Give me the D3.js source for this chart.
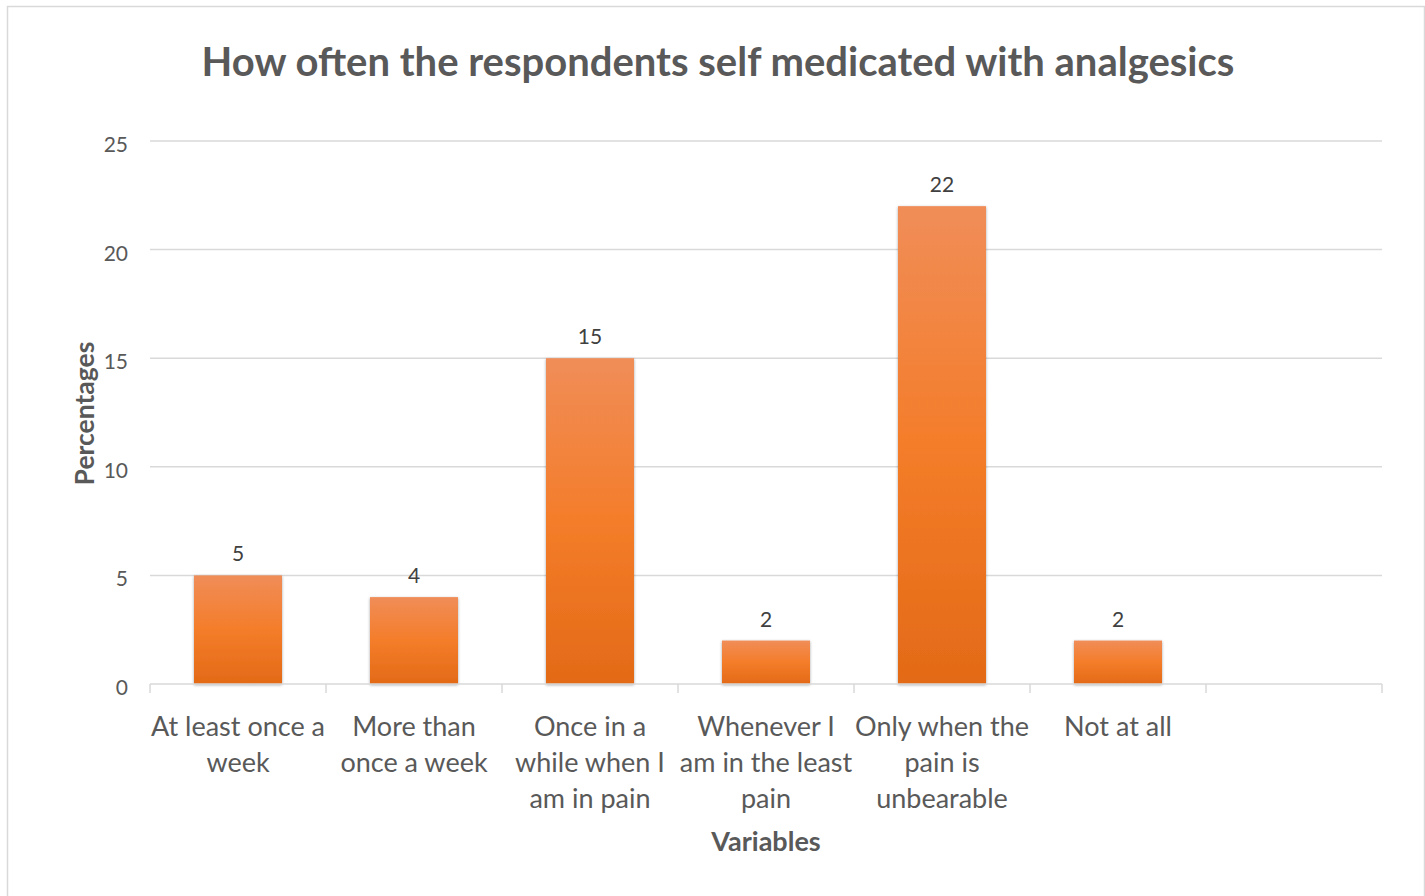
<!DOCTYPE html>
<html>
<head>
<meta charset="utf-8">
<script src="https://cdn.jsdelivr.net/npm/d3@7"></script>
<style>
  html, body { margin: 0; padding: 0; background: #fff; }
  svg { display: block; font-family: Lato, "Open Sans", sans-serif; }
</style>
</head>
<body>
<svg id="chart" width="1425" height="896"></svg>
<script>
// Chart content
const titleText = "How often the respondents self medicated with analgesics";
const categories = [
  ["At least once a", "week"],
  ["More than", "once a week"],
  ["Once in a", "while when I", "am in pain"],
  ["Whenever I", "am in the least", "pain"],
  ["Only when the", "pain is", "unbearable"],
  ["Not at all"]
];
const values = [5, 4, 15, 2, 22, 2];
const yTicks = [0, 5, 10, 15, 20, 25];
const yTitle = "Percentages";
const xTitle = "Variables";

const svg = d3.select("#chart");
const W = 1425, H = 896;
const margin = { left: 150, right: 43, top: 141, bottom: 212 };
const plotW = W - margin.left - margin.right;
const plotH = H - margin.top - margin.bottom;

// Frame
svg.append("rect")
  .attr("x", 7.5).attr("y", 6.5)
  .attr("width", W - 8).attr("height", H)
  .attr("fill", "#fff").attr("stroke", "#d9d9d9").attr("stroke-width", 1.5);

// Bar gradient
const defs = svg.append("defs");
const grad = defs.append("linearGradient")
  .attr("id", "barFill").attr("x1", 0).attr("y1", 0).attr("x2", 0).attr("y2", 1);
grad.append("stop").attr("offset", "0%").attr("stop-color", "#f08d58");
grad.append("stop").attr("offset", "50%").attr("stop-color", "#f47d2a");
grad.append("stop").attr("offset", "100%").attr("stop-color", "#e36a17");
const shadow = defs.append("filter").attr("id", "barShadow")
  .attr("x", "-10%").attr("y", "-5%").attr("width", "120%").attr("height", "112%");
shadow.append("feDropShadow")
  .attr("dx", 0).attr("dy", 1).attr("stdDeviation", 1.6)
  .attr("flood-color", "#000").attr("flood-opacity", 0.35);

const g = svg.append("g").attr("transform", `translate(${margin.left},${margin.top})`);

// Seven slots on the axis; the last one is left empty
const slotKeys = d3.range(values.length + 1).map(String);
const x = d3.scaleBand()
  .domain(slotKeys)
  .range([0, plotW])
  .paddingInner(0.5)
  .paddingOuter(0.25);
const step = x.step();

const y = d3.scaleLinear().domain([0, 25]).range([plotH, 0]);

// Gridlines
g.append("g").selectAll("line")
  .data(yTicks.filter(d => d > 0))
  .join("line")
  .attr("x1", 0).attr("x2", plotW)
  .attr("y1", d => y(d)).attr("y2", d => y(d))
  .attr("stroke", "#d9d9d9").attr("stroke-width", 1.5);

// Y tick labels
g.append("g").selectAll("text")
  .data(yTicks)
  .join("text")
  .attr("x", -22).attr("y", d => y(d))
  .attr("dy", "0.52em")
  .attr("text-anchor", "end")
  .attr("fill", "#595959")
  .attr("font-size", 21)
  .text(d => d);

// Bars
g.append("g").selectAll("rect")
  .data(values)
  .join("rect")
  .attr("x", (d, i) => x(String(i)))
  .attr("y", d => y(d))
  .attr("width", x.bandwidth())
  .attr("height", d => plotH - y(d))
  .attr("fill", "url(#barFill)")
  .attr("filter", "url(#barShadow)");

// Value labels
g.append("g").selectAll("text")
  .data(values)
  .join("text")
  .attr("x", (d, i) => x(String(i)) + x.bandwidth() / 2)
  .attr("y", d => y(d) - 14)
  .attr("text-anchor", "middle")
  .attr("fill", "#404040")
  .attr("font-size", 21)
  .text(d => d);

// X axis line and slot ticks
g.append("line")
  .attr("x1", 0).attr("x2", plotW)
  .attr("y1", plotH).attr("y2", plotH)
  .attr("stroke", "#d9d9d9").attr("stroke-width", 1.5);
g.append("g").selectAll("line")
  .data(d3.range(slotKeys.length + 1))
  .join("line")
  .attr("x1", i => i * step).attr("x2", i => i * step)
  .attr("y1", plotH).attr("y2", plotH + 9)
  .attr("stroke", "#d9d9d9").attr("stroke-width", 1.5);

// Category labels
const catG = g.append("g").selectAll("text")
  .data(categories)
  .join("text")
  .attr("text-anchor", "middle")
  .attr("fill", "#595959")
  .attr("font-size", 27)
  .attr("transform", (d, i) => `translate(${x(String(i)) + x.bandwidth() / 2},${plotH + 52})`);
catG.selectAll("tspan")
  .data(d => d)
  .join("tspan")
  .attr("x", 0)
  .attr("y", (d, j) => j * 36)
  .text(d => d);

// Axis titles
g.append("text")
  .attr("x", x("3") + x.bandwidth() / 2)
  .attr("y", plotH + 167)
  .attr("text-anchor", "middle")
  .attr("fill", "#595959")
  .attr("font-size", 27)
  .attr("font-weight", "bold")
  .text(xTitle);

svg.append("text")
  .attr("transform", `translate(94,${margin.top + plotH / 2 + 1}) rotate(-90)`)
  .attr("text-anchor", "middle")
  .attr("fill", "#595959")
  .attr("font-size", 26.5)
  .attr("font-weight", "bold")
  .text(yTitle);

// Title
svg.append("text")
  .attr("x", 718).attr("y", 76)
  .attr("text-anchor", "middle")
  .attr("fill", "#595959")
  .attr("font-size", 40)
  .attr("font-weight", "bold")
  .text(titleText);
</script>
</body>
</html>
